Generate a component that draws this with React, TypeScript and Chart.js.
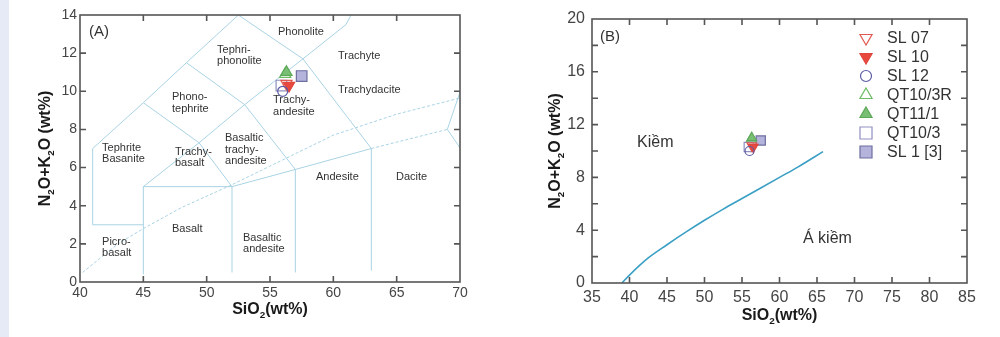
import { useEffect, useRef } from "react";
import { Chart, registerables } from "chart.js";
import { drawPoint } from "chart.js/helpers";

Chart.register(...registerables);

const FONT = "'Liberation Sans', Arial, Helvetica, sans-serif";

// ---------------- sample data (shared by both diagrams) ----------------
const SAMPLE_NAMES = ["SL 07", "SL 10", "SL 12", "QT10/3R", "QT11/1", "QT10/3", "SL 1 [3]"];
const SAMPLE_SIO2 = [56.3, 56.5, 56.0, 56.2, 56.3, 55.9, 57.5];
const SAMPLE_ALKALI = [10.4, 10.3, 10.0, 10.9, 11.0, 10.3, 10.8];

// marker styles (kept apart from the values)
const SAMPLE_SHAPES = ["triangle", "triangle", "circle", "triangle", "triangle", "rect", "rect"];
const SAMPLE_ROTATION = [180, 180, 0, 0, 0, 0, 0];
const SAMPLE_FILL = ["rgba(0,0,0,0)", "#e8493f", "rgba(0,0,0,0)", "rgba(0,0,0,0)", "#79bf73", "rgba(0,0,0,0)", "#b3b3dc"];
const SAMPLE_STROKE = ["#e05a52", "#e0463c", "#5b5ba6", "#6cbb66", "#5ea85a", "#8f8fc0", "#6e6ea0"];
const SAMPLE_LAYER = [2, 1, 0, 5, 4, 3, 6];

// ---------------- TAS diagram (A) ----------------
const TAS_X_TICKS = { min: 40, max: 70, step: 5 };
const TAS_Y_TICKS = { min: 0, max: 14, step: 2 };

// field boundaries, [SiO2, Na2O+K2O]
const TAS_FIELD_LINES: number[][][] = [
  [[41, 3], [41, 7], [45, 9.4], [48.4, 11.5], [52.5, 14]],
  [[41, 3], [45, 3]],
  [[45, 0.4], [45, 5], [52, 5], [57, 5.9], [63, 7]],
  [[52, 0.5], [52, 5]],
  [[57, 0.5], [57, 5.9]],
  [[63, 0.6], [63, 7]],
  [[45, 5], [49.4, 7.3], [53, 9.3], [57.6, 11.7], [61, 13.5], [61.4, 14]],
  [[49.4, 7.3], [52, 5]],
  [[53, 9.3], [57, 5.9]],
  [[57.6, 11.7], [63, 7]],
  [[45, 9.4], [49.4, 7.3]],
  [[48.4, 11.5], [53, 9.3]],
  [[52.5, 14], [57.6, 11.7]],
  [[69, 8], [70, 9.96]],
  [[69, 8], [70, 7.04]],
];
const TAS_DASHED_LINES: number[][][] = [
  [[63, 7], [69, 8]],
  [[40.2, 0.5], [43, 2], [45, 2.8], [48, 3.9], [52, 5.1], [56, 6.4], [60, 7.7], [65, 8.8], [70, 9.65]],
];

const TAS_FIELD_NAMES = [
  ["Phonolite"], ["Tephri-", "phonolite"], ["Trachyte"], ["Trachydacite"], ["Trachy-", "andesite"],
  ["Phono-", "tephrite"], ["Basaltic", "trachy-", "andesite"], ["Tephrite", "Basanite"], ["Trachy-", "basalt"],
  ["Basalt"], ["Picro-", "basalt"], ["Basaltic", "andesite"], ["Andesite"], ["Dacite"],
];
const TAS_FIELD_SIO2 = [55.63, 50.82, 60.37, 60.37, 55.24, 47.26, 51.45, 41.74, 47.5, 47.26, 41.74, 52.87, 58.63, 64.95];
const TAS_FIELD_ALKALI = [13.11, 12.17, 11.85, 10.07, 9.54, 9.7, 7.55, 7.03, 6.82, 2.78, 2.1, 2.31, 5.51, 5.51];

// ---------------- alkaline / subalkaline diagram (B) ----------------
const AS_X_TICKS = { min: 35, max: 85, step: 5 };
const AS_Y_TICKS = { min: 0, max: 20, step: 2, labelEvery: 4 };
const DIVIDE_SIO2 = [39, 40, 42.5, 45, 47.5, 50, 52.5, 55, 57.5, 60, 62.5, 65.8];
const DIVIDE_ALKALI = [0, 0.6, 1.9, 2.9, 3.85, 4.75, 5.6, 6.4, 7.2, 8.0, 8.8, 9.95];
const AS_FIELD_NAMES = ["Kiềm", "Á kiềm"];
const AS_FIELD_SIO2 = [41.0, 63.13];
const AS_FIELD_ALKALI = [10.6, 3.33];

const X_TITLE: [string, boolean][] = [["SiO", false], ["2", true], ["(wt%)", false]];
const Y_TITLE: [string, boolean][] = [["N", false], ["2", true], ["O+K", false], ["2", true], ["O (wt%)", false]];

// ---------------- helpers ----------------
const toPts = (pairs: number[][]) => pairs.map(([x, y]) => ({ x, y }));

function sampleDatasets(sizes: { tri: number; circ: number; sq: number }) {
  return SAMPLE_NAMES.map((name, i) => {
    const shape = SAMPLE_SHAPES[i];
    const r = shape === "circle" ? sizes.circ : shape === "rect" ? sizes.sq : sizes.tri;
    return {
      type: "scatter" as const,
      label: name,
      isSample: true,
      data: [{ x: SAMPLE_SIO2[i], y: SAMPLE_ALKALI[i] }],
      pointStyle: shape,
      pointRotation: SAMPLE_ROTATION[i],
      pointRadius: r,
      pointHoverRadius: r,
      pointBackgroundColor: SAMPLE_FILL[i],
      pointBorderColor: SAMPLE_STROKE[i],
      pointBorderWidth: 1.2,
      showLine: false,
      order: SAMPLE_LAYER[i],
    };
  });
}

function lineDataset(pairs: number[][], color: string, width: number, dash: number[] = []) {
  return {
    type: "scatter" as const,
    data: toPts(pairs),
    showLine: true,
    borderColor: color,
    borderWidth: width,
    borderDash: dash,
    pointRadius: 0,
    pointHoverRadius: 0,
    fill: false,
    order: 20,
    tension: 0,
  };
}

function drawRich(ctx: CanvasRenderingContext2D, parts: [string, boolean][], size: number) {
  const subSize = size * 0.62;
  let total = 0;
  const widths = parts.map(([t, sub]) => {
    ctx.font = `bold ${sub ? subSize : size}px ${FONT}`;
    const w = ctx.measureText(t).width;
    total += w;
    return w;
  });
  let x = -total / 2;
  ctx.textAlign = "left";
  ctx.textBaseline = "alphabetic";
  parts.forEach(([t, sub], i) => {
    ctx.font = `bold ${sub ? subSize : size}px ${FONT}`;
    ctx.fillText(t, x, sub ? size * 0.27 : 0);
    x += widths[i];
  });
}

const framePlugin = {
  id: "frame",
  afterDatasetsDraw(chart: any, _args: any, opts: any) {
    const { ctx, chartArea } = chart;
    const { left, right, top, bottom } = chartArea;
    const xs = chart.scales.x;
    const ys = chart.scales.y;
    const len = opts.tickLen ?? 6;
    ctx.save();
    ctx.strokeStyle = opts.color ?? "#555";
    ctx.lineWidth = opts.width ?? 1.5;
    ctx.beginPath();
    xs.ticks.forEach((t: any) => {
      const px = xs.getPixelForValue(t.value);
      if (px <= left + 1 || px >= right - 1) return;
      ctx.moveTo(px, bottom);
      ctx.lineTo(px, bottom - len);
      ctx.moveTo(px, top);
      ctx.lineTo(px, top + len);
    });
    ys.ticks.forEach((t: any) => {
      const py = ys.getPixelForValue(t.value);
      if (py <= top + 1 || py >= bottom - 1) return;
      ctx.moveTo(left, py);
      ctx.lineTo(left + len, py);
      ctx.moveTo(right, py);
      ctx.lineTo(right - len, py);
    });
    ctx.stroke();
    ctx.strokeRect(left, top, right - left, bottom - top);
    ctx.restore();
  },
};

const textPlugin = {
  id: "texts",
  afterDraw(chart: any, _args: any, opts: any) {
    const { ctx, chartArea } = chart;
    const xs = chart.scales.x;
    const ys = chart.scales.y;
    ctx.save();
    // field labels
    ctx.fillStyle = opts.labelColor ?? "#333";
    ctx.font = `${opts.labelSize}px ${FONT}`;
    ctx.textAlign = "left";
    ctx.textBaseline = "middle";
    (opts.names as string[][]).forEach((lines, i) => {
      const px = xs.getPixelForValue(opts.sio2[i]);
      const py = ys.getPixelForValue(opts.alkali[i]);
      lines.forEach((ln, j) => ctx.fillText(ln, px, py + j * opts.lineGap));
    });
    // panel letter
    ctx.font = `${opts.panelSize}px ${FONT}`;
    ctx.fillText(opts.panel, chartArea.left + opts.panelDx, chartArea.top + opts.panelDy);
    // axis titles
    ctx.fillStyle = "#1a1a1a";
    ctx.save();
    ctx.translate((chartArea.left + chartArea.right) / 2, opts.xTitleY);
    drawRich(ctx, X_TITLE, opts.titleSize);
    ctx.restore();
    ctx.save();
    ctx.translate(opts.yTitleX, (chartArea.top + chartArea.bottom) / 2);
    ctx.rotate(-Math.PI / 2);
    drawRich(ctx, Y_TITLE, opts.titleSize);
    ctx.restore();
    // legend
    if (opts.legend) {
      const L = opts.legend;
      let row = 0;
      chart.data.datasets.forEach((ds: any) => {
        if (!ds.isSample) return;
        const y = L.y + row * L.gap;
        ctx.fillStyle = ds.pointBackgroundColor;
        ctx.strokeStyle = ds.pointBorderColor;
        ctx.lineWidth = 1.2;
        const r = ds.pointStyle === "circle" ? L.circ : ds.pointStyle === "rect" ? L.sq : L.tri;
        drawPoint(ctx, { pointStyle: ds.pointStyle, rotation: ds.pointRotation, radius: r, borderWidth: 1.2 } as any, L.x, y);
        ctx.fillStyle = "#333";
        ctx.font = `${L.size}px ${FONT}`;
        ctx.textAlign = "left";
        ctx.textBaseline = "middle";
        ctx.fillText(ds.label, L.textX, y + 1);
        row++;
      });
    }
    ctx.restore();
  },
};

function baseOptions(p: {
  xt: { min: number; max: number; step: number };
  yt: { min: number; max: number; step: number; labelEvery?: number };
  yAxisW: number; xAxisH: number; padTop: number; padRight: number;
  tickSize: number; xPad: number; yPad: number;
  frame: any; texts: any;
}) {
  return {
    responsive: false,
    animation: false as const,
    devicePixelRatio: 1,
    layout: { padding: { left: 0, top: p.padTop, right: p.padRight, bottom: 0 } },
    plugins: {
      legend: { display: false },
      tooltip: { enabled: false },
      frame: p.frame,
      texts: p.texts,
    },
    events: [],
    scales: {
      x: {
        type: "linear" as const,
        min: p.xt.min,
        max: p.xt.max,
        grid: { display: false, drawTicks: false },
        border: { display: false },
        afterFit: (s: any) => { s.height = p.xAxisH; },
        ticks: {
          stepSize: p.xt.step,
          maxRotation: 0,
          autoSkip: false,
          padding: p.xPad,
          color: "#454545",
          font: { family: FONT, size: p.tickSize },
        },
      },
      y: {
        type: "linear" as const,
        min: p.yt.min,
        max: p.yt.max,
        grid: { display: false, drawTicks: false },
        border: { display: false },
        afterFit: (s: any) => { s.width = p.yAxisW; },
        ticks: {
          stepSize: p.yt.step,
          autoSkip: false,
          padding: p.yPad,
          color: "#454545",
          font: { family: FONT, size: p.tickSize },
          callback: (v: any) => (p.yt.labelEvery && Number(v) % p.yt.labelEvery !== 0 ? "" : String(v)),
        },
      },
    },
  };
}

export default function App() {
  const refA = useRef<HTMLCanvasElement>(null);
  const refB = useRef<HTMLCanvasElement>(null);

  useEffect(() => {
    const tasLines = [
      ...TAS_FIELD_LINES.map((l) => lineDataset(l, "#a9d3e4", 1)),
      ...TAS_DASHED_LINES.map((l) => lineDataset(l, "#a9d3e4", 1, [3, 2])),
    ];
    const chartA = new Chart(refA.current!, {
      type: "scatter",
      data: { datasets: [...sampleDatasets({ tri: 6.5, circ: 5, sq: 7.5 }), ...tasLines] as any },
      options: baseOptions({
        xt: TAS_X_TICKS, yt: TAS_Y_TICKS,
        yAxisW: 80, xAxisH: 55, padTop: 15, padRight: 30,
        tickSize: 14, xPad: 3, yPad: 3,
        frame: { color: "#555", width: 1.6, tickLen: 6 },
        texts: {
          names: TAS_FIELD_NAMES, sio2: TAS_FIELD_SIO2, alkali: TAS_FIELD_ALKALI,
          labelSize: 11, lineGap: 11.5, panel: "(A)", panelSize: 15, panelDx: 9, panelDy: 17,
          titleSize: 16, xTitleY: 314, yTitleX: 50,
        },
      }) as any,
      plugins: [framePlugin, textPlugin],
    });

    const chartB = new Chart(refB.current!, {
      type: "scatter",
      data: {
        datasets: [
          ...sampleDatasets({ tri: 5.5, circ: 4.5, sq: 6.5 }),
          {
            ...lineDataset(DIVIDE_SIO2.map((x, i) => [x, DIVIDE_ALKALI[i]]), "#3a9fc4", 1.6),
            cubicInterpolationMode: "monotone",
          },
        ] as any,
      },
      options: baseOptions({
        xt: AS_X_TICKS, yt: AS_Y_TICKS,
        yAxisW: 92, xAxisH: 54, padTop: 19, padRight: 33,
        tickSize: 16, xPad: 5, yPad: 7,
        frame: { color: "#555", width: 1.6, tickLen: 6 },
        texts: {
          names: AS_FIELD_NAMES.map((n) => [n]), sio2: AS_FIELD_SIO2, alkali: AS_FIELD_ALKALI,
          labelSize: 16, lineGap: 16, panel: "(B)", panelSize: 15, panelDx: 8, panelDy: 18,
          titleSize: 16, xTitleY: 320, yTitleX: 60,
          legend: { x: 366, textX: 387, y: 38, gap: 19, size: 16, tri: 7, circ: 5.5, sq: 8.5 },
        },
      }) as any,
      plugins: [framePlugin, textPlugin],
    });

    return () => {
      chartA.destroy();
      chartB.destroy();
    };
  }, []);

  return (
    <div style={{ position: "fixed", left: 0, top: 0, width: 1000, height: 337, background: "#fff", overflow: "hidden" }}>
      <div style={{ position: "absolute", left: 0, top: 0, width: 9, height: 337, background: "#e6eaf6" }} />
      <canvas ref={refA} width={490} height={337} style={{ position: "absolute", left: 0, top: 0, width: 490, height: 337 }} />
      <canvas ref={refB} width={500} height={337} style={{ position: "absolute", left: 500, top: 0, width: 500, height: 337 }} />
    </div>
  );
}
